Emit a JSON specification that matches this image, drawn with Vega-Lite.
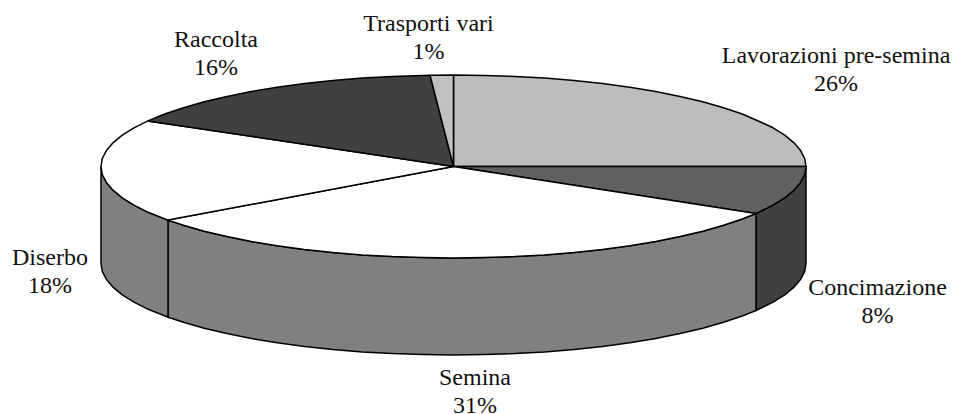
{
"$schema":"https://vega.github.io/schema/vega-lite/v6.json",
"width":956,"height":414,"padding":0,"autosize":"none","background":"white",
"config":{"view":{"stroke":null}},
"datasets":{
"side":[
{"slice":"Concimazione","x":806,"y":166.5,"y2":263.5},{"slice":"Concimazione","x":804.7,"y":174.5,"y2":271.5},{"slice":"Concimazione","x":800.6,"y":182.4,"y2":279.4},{"slice":"Concimazione","x":794,"y":190.2,"y2":287.2},{"slice":"Concimazione","x":784.7,"y":197.8,"y2":294.8},{"slice":"Concimazione","x":773,"y":205.2,"y2":302.2},{"slice":"Concimazione","x":756,"y":213.5,"y2":310.5},
{"slice":"Semina","x":756,"y":213.5,"y2":310.5},{"slice":"Semina","x":742.3,"y":219,"y2":316},{"slice":"Semina","x":723.5,"y":225.3,"y2":322.3},{"slice":"Semina","x":702.8,"y":231.2,"y2":328.2},{"slice":"Semina","x":680.1,"y":236.6,"y2":333.6},{"slice":"Semina","x":655.7,"y":241.5,"y2":338.5},{"slice":"Semina","x":629.8,"y":245.7,"y2":342.7},{"slice":"Semina","x":602.5,"y":249.4,"y2":346.4},{"slice":"Semina","x":574.1,"y":252.5,"y2":349.5},{"slice":"Semina","x":544.7,"y":254.9,"y2":351.9},{"slice":"Semina","x":514.7,"y":256.6,"y2":353.6},{"slice":"Semina","x":484.2,"y":257.6,"y2":354.6},{"slice":"Semina","x":453.5,"y":258,"y2":355},{"slice":"Semina","x":422.8,"y":257.6,"y2":354.6},{"slice":"Semina","x":392.3,"y":256.6,"y2":353.6},{"slice":"Semina","x":362.3,"y":254.9,"y2":351.9},{"slice":"Semina","x":332.9,"y":252.5,"y2":349.5},{"slice":"Semina","x":304.5,"y":249.4,"y2":346.4},{"slice":"Semina","x":277.2,"y":245.7,"y2":342.7},{"slice":"Semina","x":251.3,"y":241.5,"y2":338.5},{"slice":"Semina","x":226.9,"y":236.6,"y2":333.6},{"slice":"Semina","x":204.2,"y":231.2,"y2":328.2},{"slice":"Semina","x":183.5,"y":225.3,"y2":322.3},{"slice":"Semina","x":168,"y":220.1,"y2":317.1},
{"slice":"Diserbo","x":168,"y":220.1,"y2":317.1},{"slice":"Diserbo","x":148.2,"y":212.3,"y2":309.3},{"slice":"Diserbo","x":134,"y":205.2,"y2":302.2},{"slice":"Diserbo","x":122.3,"y":197.8,"y2":294.8},{"slice":"Diserbo","x":113,"y":190.2,"y2":287.2},{"slice":"Diserbo","x":106.4,"y":182.4,"y2":279.4},{"slice":"Diserbo","x":102.3,"y":174.5,"y2":271.5},{"slice":"Diserbo","x":101,"y":166.5,"y2":263.5}
],
"top":[
{"slice":"Lavorazioni pre-semina","i":0,"x":453.5,"y":166.5},{"slice":"Lavorazioni pre-semina","i":1,"x":453.5,"y":75},{"slice":"Lavorazioni pre-semina","i":2,"x":484.2,"y":75.4},{"slice":"Lavorazioni pre-semina","i":3,"x":514.7,"y":76.4},{"slice":"Lavorazioni pre-semina","i":4,"x":544.7,"y":78.1},{"slice":"Lavorazioni pre-semina","i":5,"x":574.1,"y":80.5},{"slice":"Lavorazioni pre-semina","i":6,"x":602.5,"y":83.6},{"slice":"Lavorazioni pre-semina","i":7,"x":629.8,"y":87.3},{"slice":"Lavorazioni pre-semina","i":8,"x":655.7,"y":91.5},{"slice":"Lavorazioni pre-semina","i":9,"x":680.1,"y":96.4},{"slice":"Lavorazioni pre-semina","i":10,"x":702.8,"y":101.8},{"slice":"Lavorazioni pre-semina","i":11,"x":723.5,"y":107.7},{"slice":"Lavorazioni pre-semina","i":12,"x":742.3,"y":114},{"slice":"Lavorazioni pre-semina","i":13,"x":758.8,"y":121.2},{"slice":"Lavorazioni pre-semina","i":14,"x":773,"y":127.8},{"slice":"Lavorazioni pre-semina","i":15,"x":784.7,"y":135.2},{"slice":"Lavorazioni pre-semina","i":16,"x":794,"y":142.8},{"slice":"Lavorazioni pre-semina","i":17,"x":800.6,"y":150.6},{"slice":"Lavorazioni pre-semina","i":18,"x":804.7,"y":158.5},{"slice":"Lavorazioni pre-semina","i":19,"x":806,"y":166.5},{"slice":"Lavorazioni pre-semina","i":20,"x":453.5,"y":166.5},
{"slice":"Concimazione","i":0,"x":453.5,"y":166.5},{"slice":"Concimazione","i":1,"x":806,"y":166.5},{"slice":"Concimazione","i":2,"x":804.7,"y":174.5},{"slice":"Concimazione","i":3,"x":800.6,"y":182.4},{"slice":"Concimazione","i":4,"x":794,"y":190.2},{"slice":"Concimazione","i":5,"x":784.7,"y":197.8},{"slice":"Concimazione","i":6,"x":773,"y":205.2},{"slice":"Concimazione","i":7,"x":756,"y":213.5},{"slice":"Concimazione","i":8,"x":453.5,"y":166.5},
{"slice":"Semina","i":0,"x":453.5,"y":166.5},{"slice":"Semina","i":1,"x":756,"y":213.5},{"slice":"Semina","i":2,"x":742.3,"y":219},{"slice":"Semina","i":3,"x":723.5,"y":225.3},{"slice":"Semina","i":4,"x":702.8,"y":231.2},{"slice":"Semina","i":5,"x":680.1,"y":236.6},{"slice":"Semina","i":6,"x":655.7,"y":241.5},{"slice":"Semina","i":7,"x":629.8,"y":245.7},{"slice":"Semina","i":8,"x":602.5,"y":249.4},{"slice":"Semina","i":9,"x":574.1,"y":252.5},{"slice":"Semina","i":10,"x":544.7,"y":254.9},{"slice":"Semina","i":11,"x":514.7,"y":256.6},{"slice":"Semina","i":12,"x":484.2,"y":257.6},{"slice":"Semina","i":13,"x":453.5,"y":258},{"slice":"Semina","i":14,"x":422.8,"y":257.6},{"slice":"Semina","i":15,"x":392.3,"y":256.6},{"slice":"Semina","i":16,"x":362.3,"y":254.9},{"slice":"Semina","i":17,"x":332.9,"y":252.5},{"slice":"Semina","i":18,"x":304.5,"y":249.4},{"slice":"Semina","i":19,"x":277.2,"y":245.7},{"slice":"Semina","i":20,"x":251.3,"y":241.5},{"slice":"Semina","i":21,"x":226.9,"y":236.6},{"slice":"Semina","i":22,"x":204.2,"y":231.2},{"slice":"Semina","i":23,"x":183.5,"y":225.3},{"slice":"Semina","i":24,"x":168,"y":220.1},{"slice":"Semina","i":25,"x":453.5,"y":166.5},
{"slice":"Diserbo","i":0,"x":453.5,"y":166.5},{"slice":"Diserbo","i":1,"x":168,"y":220.1},{"slice":"Diserbo","i":2,"x":148.2,"y":212.3},{"slice":"Diserbo","i":3,"x":134,"y":205.2},{"slice":"Diserbo","i":4,"x":122.3,"y":197.8},{"slice":"Diserbo","i":5,"x":113,"y":190.2},{"slice":"Diserbo","i":6,"x":106.4,"y":182.4},{"slice":"Diserbo","i":7,"x":102.3,"y":174.5},{"slice":"Diserbo","i":8,"x":101,"y":166.5},{"slice":"Diserbo","i":9,"x":102.3,"y":158.5},{"slice":"Diserbo","i":10,"x":106.4,"y":150.6},{"slice":"Diserbo","i":11,"x":113,"y":142.8},{"slice":"Diserbo","i":12,"x":122.3,"y":135.2},{"slice":"Diserbo","i":13,"x":134,"y":127.8},{"slice":"Diserbo","i":14,"x":147.9,"y":120.9},{"slice":"Diserbo","i":15,"x":453.5,"y":166.5},
{"slice":"Raccolta","i":0,"x":453.5,"y":166.5},{"slice":"Raccolta","i":1,"x":147.9,"y":120.9},{"slice":"Raccolta","i":2,"x":164.7,"y":114},{"slice":"Raccolta","i":3,"x":183.5,"y":107.7},{"slice":"Raccolta","i":4,"x":204.2,"y":101.8},{"slice":"Raccolta","i":5,"x":226.9,"y":96.4},{"slice":"Raccolta","i":6,"x":251.3,"y":91.5},{"slice":"Raccolta","i":7,"x":277.2,"y":87.3},{"slice":"Raccolta","i":8,"x":304.5,"y":83.6},{"slice":"Raccolta","i":9,"x":332.9,"y":80.5},{"slice":"Raccolta","i":10,"x":362.3,"y":78.1},{"slice":"Raccolta","i":11,"x":392.3,"y":76.4},{"slice":"Raccolta","i":12,"x":430,"y":75.2},{"slice":"Raccolta","i":13,"x":453.5,"y":166.5},
{"slice":"Trasporti vari","i":0,"x":453.5,"y":166.5},{"slice":"Trasporti vari","i":1,"x":430,"y":75.2},{"slice":"Trasporti vari","i":2,"x":453.5,"y":75},{"slice":"Trasporti vari","i":3,"x":453.5,"y":166.5}
],
"labels":[
{"label":"Lavorazioni pre-semina\n26%","x":836,"y":55.5},
{"label":"Concimazione\n8%","x":877.5,"y":288},
{"label":"Semina\n31%","x":475,"y":378},
{"label":"Diserbo\n18%","x":50,"y":258},
{"label":"Raccolta\n16%","x":216,"y":39.5},
{"label":"Trasporti vari\n1%","x":428.5,"y":24}
]
},
"layer":[
{"data":{"name":"side"},
 "mark":{"type":"area","stroke":"#000000","strokeWidth":1.5,"opacity":1},
 "encoding":{
  "x":{"field":"x","type":"quantitative","scale":{"domain":[0,956],"nice":false,"zero":false},"axis":null},
  "y":{"field":"y","type":"quantitative","scale":{"domain":[414,0],"nice":false,"zero":false},"axis":null},
  "y2":{"field":"y2"},
  "fill":{"field":"slice","type":"nominal","legend":null,"scale":{"domain":["Concimazione","Semina","Diserbo"],"range":["#404040","#808080","#808080"]}}
 }},
{"data":{"name":"top"},
 "mark":{"type":"line","stroke":"#000000","strokeWidth":1.5,"strokeJoin":"round"},
 "encoding":{
  "x":{"field":"x","type":"quantitative","axis":null},
  "y":{"field":"y","type":"quantitative","axis":null},
  "order":{"field":"i","type":"quantitative"},
  "fill":{"field":"slice","type":"nominal","legend":null,"scale":{"domain":["Lavorazioni pre-semina","Concimazione","Semina","Diserbo","Raccolta","Trasporti vari"],"range":["#bdbdbd","#606060","#ffffff","#ffffff","#404040","#c0c0c0"]}}
 }},
{"data":{"name":"labels"},
 "mark":{"type":"text","font":"Liberation Serif","fontSize":24,"lineBreak":"\n","lineHeight":28,"align":"center","baseline":"middle","color":"#111111"},
 "encoding":{
  "x":{"field":"x","type":"quantitative","axis":null},
  "y":{"field":"y","type":"quantitative","axis":null},
  "text":{"field":"label"}
 }}
],
"resolve":{"scale":{"fill":"independent"}}
}
